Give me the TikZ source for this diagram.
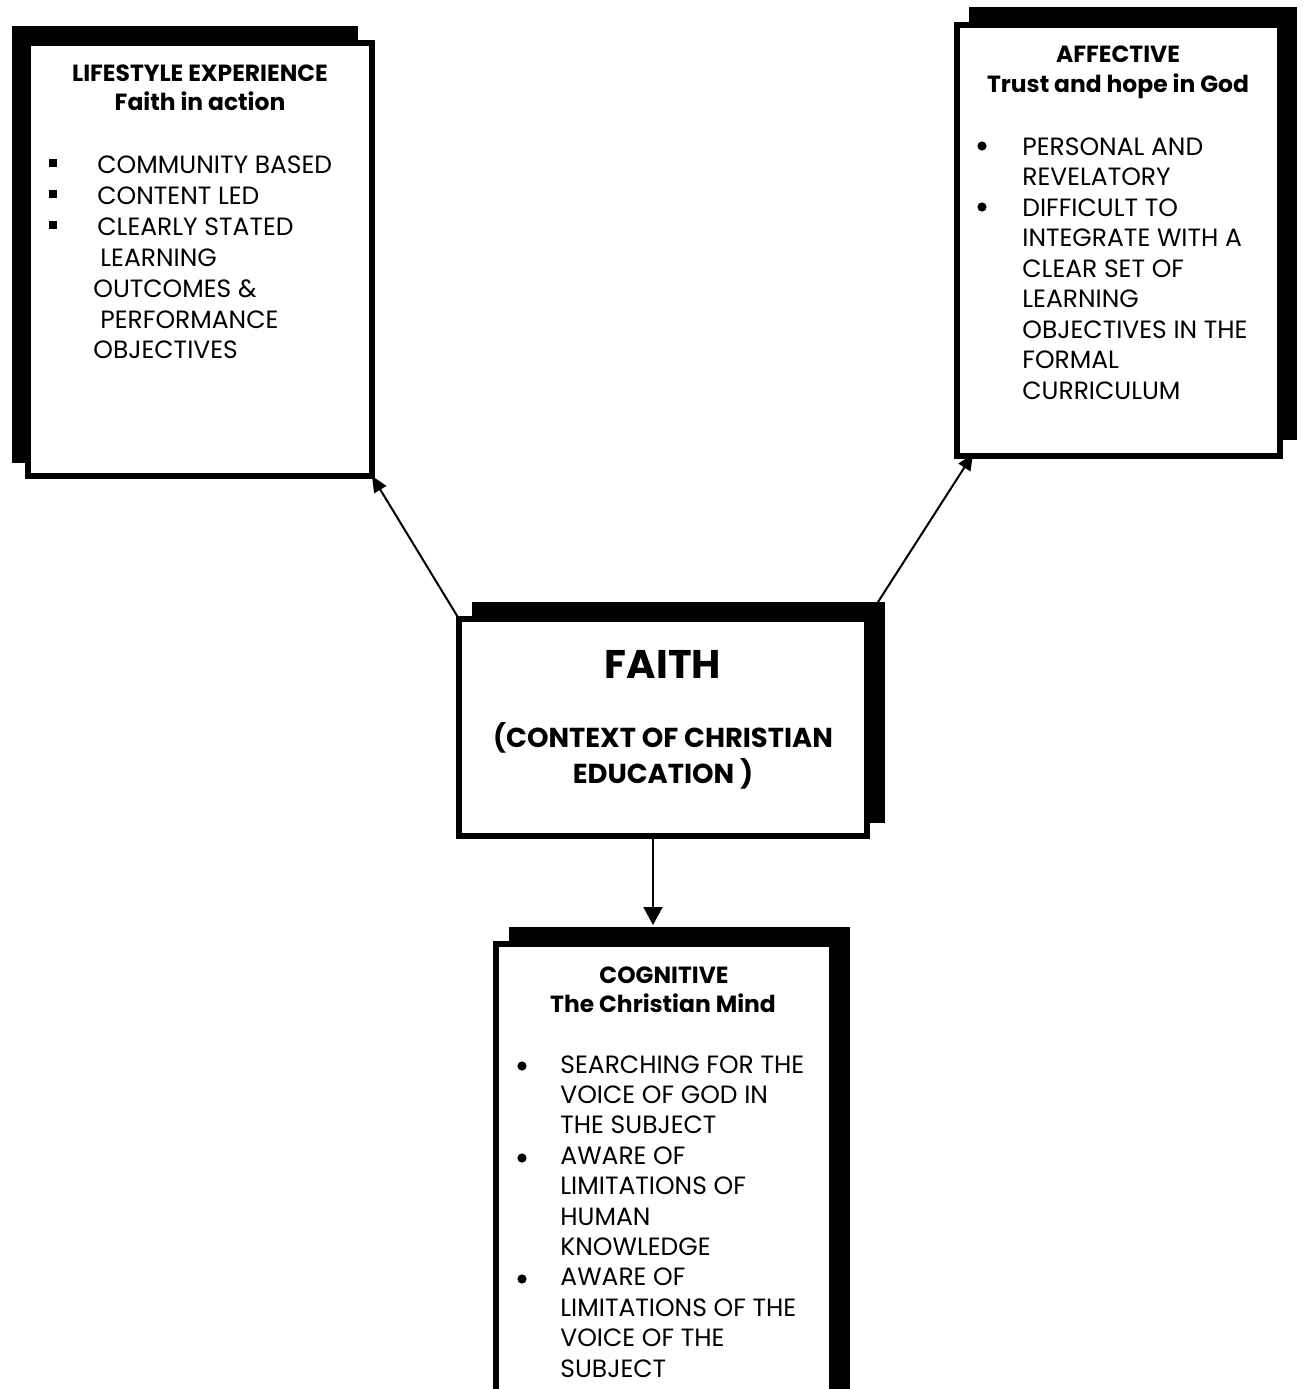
\documentclass[tikz,border=0pt]{standalone}
\usepackage{fontspec}
\setmainfont{Poppins}
\usetikzlibrary{arrows.meta,fit}
\begin{document}
\begin{tikzpicture}[x=0.5pt,y=-0.5pt,
  shade box/.style={fill=black, inner sep=0pt, outer sep=0pt},
  main box/.style={draw=black, line width=2.6pt, fill=white, inner sep=0pt, outer sep=0pt},
  head/.style={font=\fontsize{11.7}{14}\selectfont\bfseries, inner sep=0pt, anchor=base},
  item/.style={font=\fontsize{12.5}{15}\selectfont, inner sep=0pt, anchor=base west},
  title/.style={font=\fontsize{20}{24}\selectfont\bfseries, inner sep=0pt, anchor=base},
  subtitle/.style={font=\fontsize{13.7}{16}\selectfont\bfseries, inner sep=0pt, anchor=base},
  link/.style={line width=1pt, -{Triangle[length=8pt,width=7pt]}},
  dot/.style={radius=2.3pt},
]
\useasboundingbox (0,0) rectangle (1307,1389);
\clip (0,0) rectangle (1307,1389);

% ---- Lifestyle experience (top left) ----
\node[shade box, fit={(12,26)(358,463)}] (lifeshade) {};
\node[main box, fit={(28,43)(372,476)}] (life) {};
\node[head] (lifeh1) at (200,81) {LIFESTYLE EXPERIENCE};
\node[head] (lifeh2) at (200,110) {Faith in action};
\foreach \t/\x/\y [count=\i] in {COMMUNITY BASED/97/173, CONTENT LED/97/204,
    CLEARLY STATED/97/235, LEARNING/100/266, OUTCOMES \&/93/297,
    PERFORMANCE/100/328, OBJECTIVES/93/358}
  \node[item] (life-\i) at (\x,\y) {\t};
\foreach \y in {163,194,225}
  \fill (49,\y-4) rectangle (57,\y+4);

% ---- Affective (top right) ----
\node[shade box, fit={(969,7)(1297,440)}] (affshade) {};
\node[main box, fit={(957,25)(1280,456)}] (aff) {};
\node[head] (affh1) at (1118,62) {AFFECTIVE};
\node[head] (affh2) at (1118,92) {Trust and hope in God};
\foreach \t/\y [count=\i] in {PERSONAL AND/155, REVELATORY/185.5,
    DIFFICULT TO/216, INTEGRATE WITH A/246.5, CLEAR SET OF/277,
    LEARNING/307.5, OBJECTIVES IN THE/338, FORMAL/368.5, CURRICULUM/399}
  \node[item] (aff-\i) at (1022,\y) {\t};
\foreach \y in {146,207}
  \fill (982,\y) circle[dot];

% ---- Faith (centre) ----
\node[shade box, fit={(472,602)(885,823)}] (faithshade) {};
\node[main box, fit={(459,619)(867,836)}] (faith) {};
\node[title] (faithh) at (663,678) {FAITH};
\node[subtitle] (faiths1) at (663,747) {(CONTEXT OF CHRISTIAN};
\node[subtitle] (faiths2) at (663,783) {EDUCATION )};

% ---- Cognitive (bottom) ----
\node[shade box, fit={(509,927)(850,1400)}] (cogshade) {};
\node[main box, fit={(496,944)(832,1410)}] (cog) {};
\node[head] (cogh1) at (664,983) {COGNITIVE};
\node[head] (cogh2) at (663,1012) {The Christian Mind};
\foreach \t/\y [count=\i] in {SEARCHING FOR THE/1073, VOICE OF GOD IN/1103.4,
    THE SUBJECT/1133.8, AWARE OF/1164.2, LIMITATIONS OF/1194.6,
    HUMAN/1225, KNOWLEDGE/1255.4, AWARE OF/1285.8, LIMITATIONS OF THE/1316.2,
    VOICE OF THE/1346.6, SUBJECT/1377}
  \node[item] (cog-\i) at (560,\y) {\t};
\foreach \y in {1066,1158,1279}
  \fill (522,\y) circle[dot];

% ---- Connectors ----
\draw[link] (faith.north west) -- (life.south east);
\draw[link] ([xshift=-3.5pt]faithshade.north east) -- ([xshift=8pt,yshift=1pt]aff.south west);
\draw[link, -{Triangle[length=9pt,width=9.5pt]}] (faith.south -| 653,0) -- (653,925);
\end{tikzpicture}
\end{document}
